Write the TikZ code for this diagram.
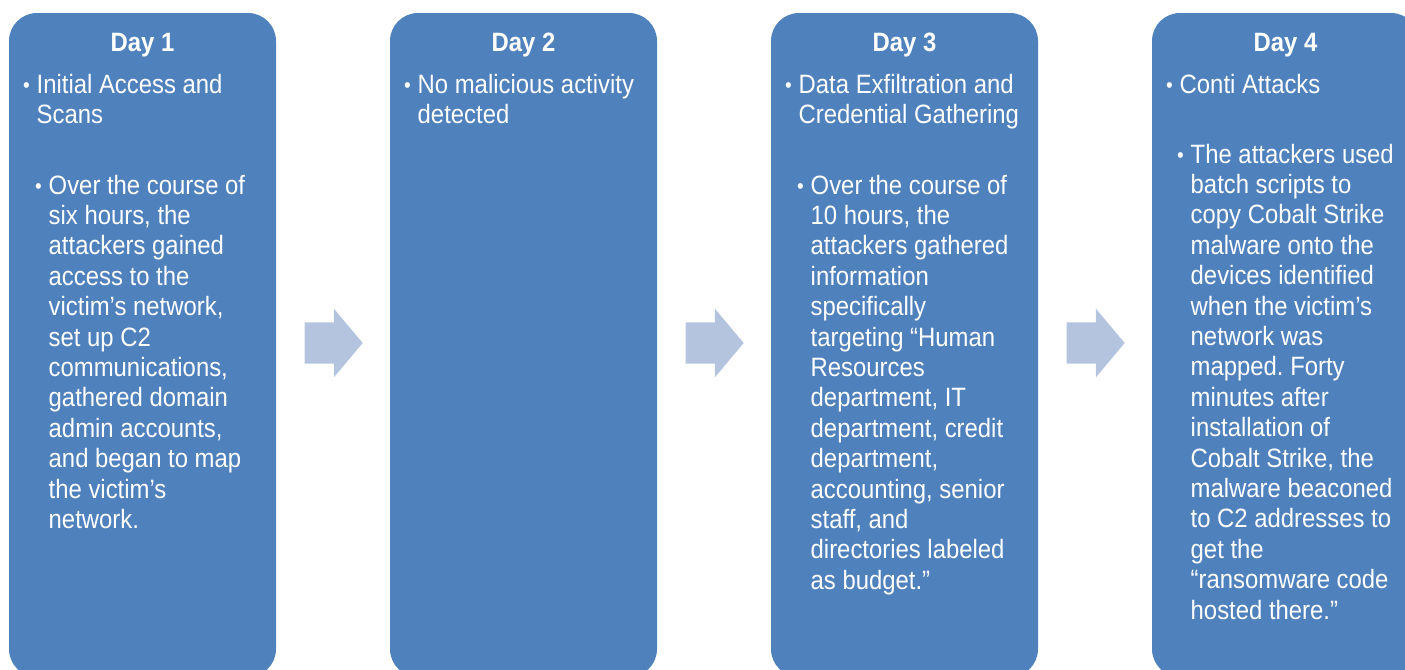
\documentclass[tikz,border=0pt]{standalone}
\usepackage{fontspec}
\setmainfont{Liberation Sans}[FakeStretch=0.9]
\usepackage{graphicx}
\usepackage{tikz}
\usetikzlibrary{shapes.arrows, positioning, calc}

\definecolor{dayblue}{HTML}{4F81BD}
\definecolor{arrowblue}{HTML}{B4C4DE}

\frenchspacing
% small hanging bullet in front of a line
\newcommand{\bul}{\llap{\raisebox{0.1mm}{\scalebox{0.8}{\textbullet}}\hspace{0.7mm}}}
\newcommand{\daytext}{\fontsize{7.55pt}{8.65pt}\selectfont}
% lines of a bullet, hanging from the baseline of the first one
\newcommand{\lines}[1]{\begin{tabular}[t]{@{}l@{}}#1\end{tabular}}

\begin{document}
\begin{tikzpicture}[
    x=0.1mm, y=-0.1mm,
    daybox/.style={rectangle, rounded corners=2.8mm, fill=dayblue, minimum width=26.7mm, minimum height=66.4mm, inner sep=0pt, outer sep=0pt},
    dayhead/.style={anchor=base, inner sep=0pt, text=white, font=\daytext\bfseries},
    itemtext/.style={anchor=base west, inner sep=0pt, text=white, font=\daytext},
    flowarrow/.style={single arrow, fill=arrowblue, minimum height=5.8mm, inner xsep=0pt, inner ysep=2mm, single arrow head extend=1.35mm, single arrow tip angle=100},
]
\useasboundingbox (0,0) rectangle (1405,669);

% Day boxes
\node[daybox] (day1) at (142.5,345) {};
\node[daybox, right=11.4mm of day1] (day2) {};
\node[daybox, right=11.4mm of day2] (day3) {};
\node[daybox, right=11.4mm of day3] (day4) {};

% Headings
\node[dayhead] (head1) at ([yshift=-3.8mm]day1.north) {Day 1};
\node[dayhead] (head2) at ([yshift=-3.8mm]day2.north) {Day 2};
\node[dayhead] (head3) at ([yshift=-3.8mm]day3.north) {Day 3};
\node[dayhead] (head4) at ([yshift=-3.8mm]day4.north) {Day 4};

% Day 1
\node[itemtext] (sum1) at ([xshift=2.7mm, yshift=-8.0mm]day1.north west) {\lines{\bul Initial Access and\\Scans}};
\node[itemtext] (det1) at ([xshift=3.9mm, yshift=-18.1mm]day1.north west) {\lines{\bul Over the course of\\six hours, the\\attackers gained\\access to the\\victim’s network,\\set up C2\\communications,\\gathered domain\\admin accounts,\\and began to map\\the victim’s\\network.}};

% Day 2
\node[itemtext] (sum2) at ([xshift=2.7mm, yshift=-8.0mm]day2.north west) {\lines{\bul No malicious activity\\detected}};

% Day 3
\node[itemtext] (sum3) at ([xshift=2.7mm, yshift=-8.0mm]day3.north west) {\lines{\bul Data Exfiltration and\\Credential Gathering}};
\node[itemtext] (det3) at ([xshift=3.9mm, yshift=-18.1mm]day3.north west) {\lines{\bul Over the course of\\10 hours, the\\attackers gathered\\information\\specifically\\targeting “Human\\Resources\\department, IT\\department, credit\\department,\\accounting, senior\\staff, and\\directories labeled\\as budget.”}};

% Day 4
\node[itemtext] (sum4) at ([xshift=2.7mm, yshift=-8.0mm]day4.north west) {\lines{\bul Conti Attacks}};
\node[itemtext] (det4) at ([xshift=3.8mm, yshift=-15.0mm]day4.north west) {\lines{\bul The attackers used\\batch scripts to\\copy Cobalt Strike\\malware onto the\\devices identified\\when the victim’s\\network was\\mapped. Forty\\minutes after\\installation of\\Cobalt Strike, the\\malware beaconed\\to C2 addresses to\\get the\\“ransomware code\\hosted there.”}};

% Arrows between days
\node[flowarrow, xshift=-0.8mm, yshift=0.2mm] (arr1) at ($(day1.east)!0.5!(day2.west)$) {};
\node[flowarrow, xshift=-0.8mm, yshift=0.2mm] (arr2) at ($(day2.east)!0.5!(day3.west)$) {};
\node[flowarrow, xshift=-0.8mm, yshift=0.2mm] (arr3) at ($(day3.east)!0.5!(day4.west)$) {};
\end{tikzpicture}
\end{document}
